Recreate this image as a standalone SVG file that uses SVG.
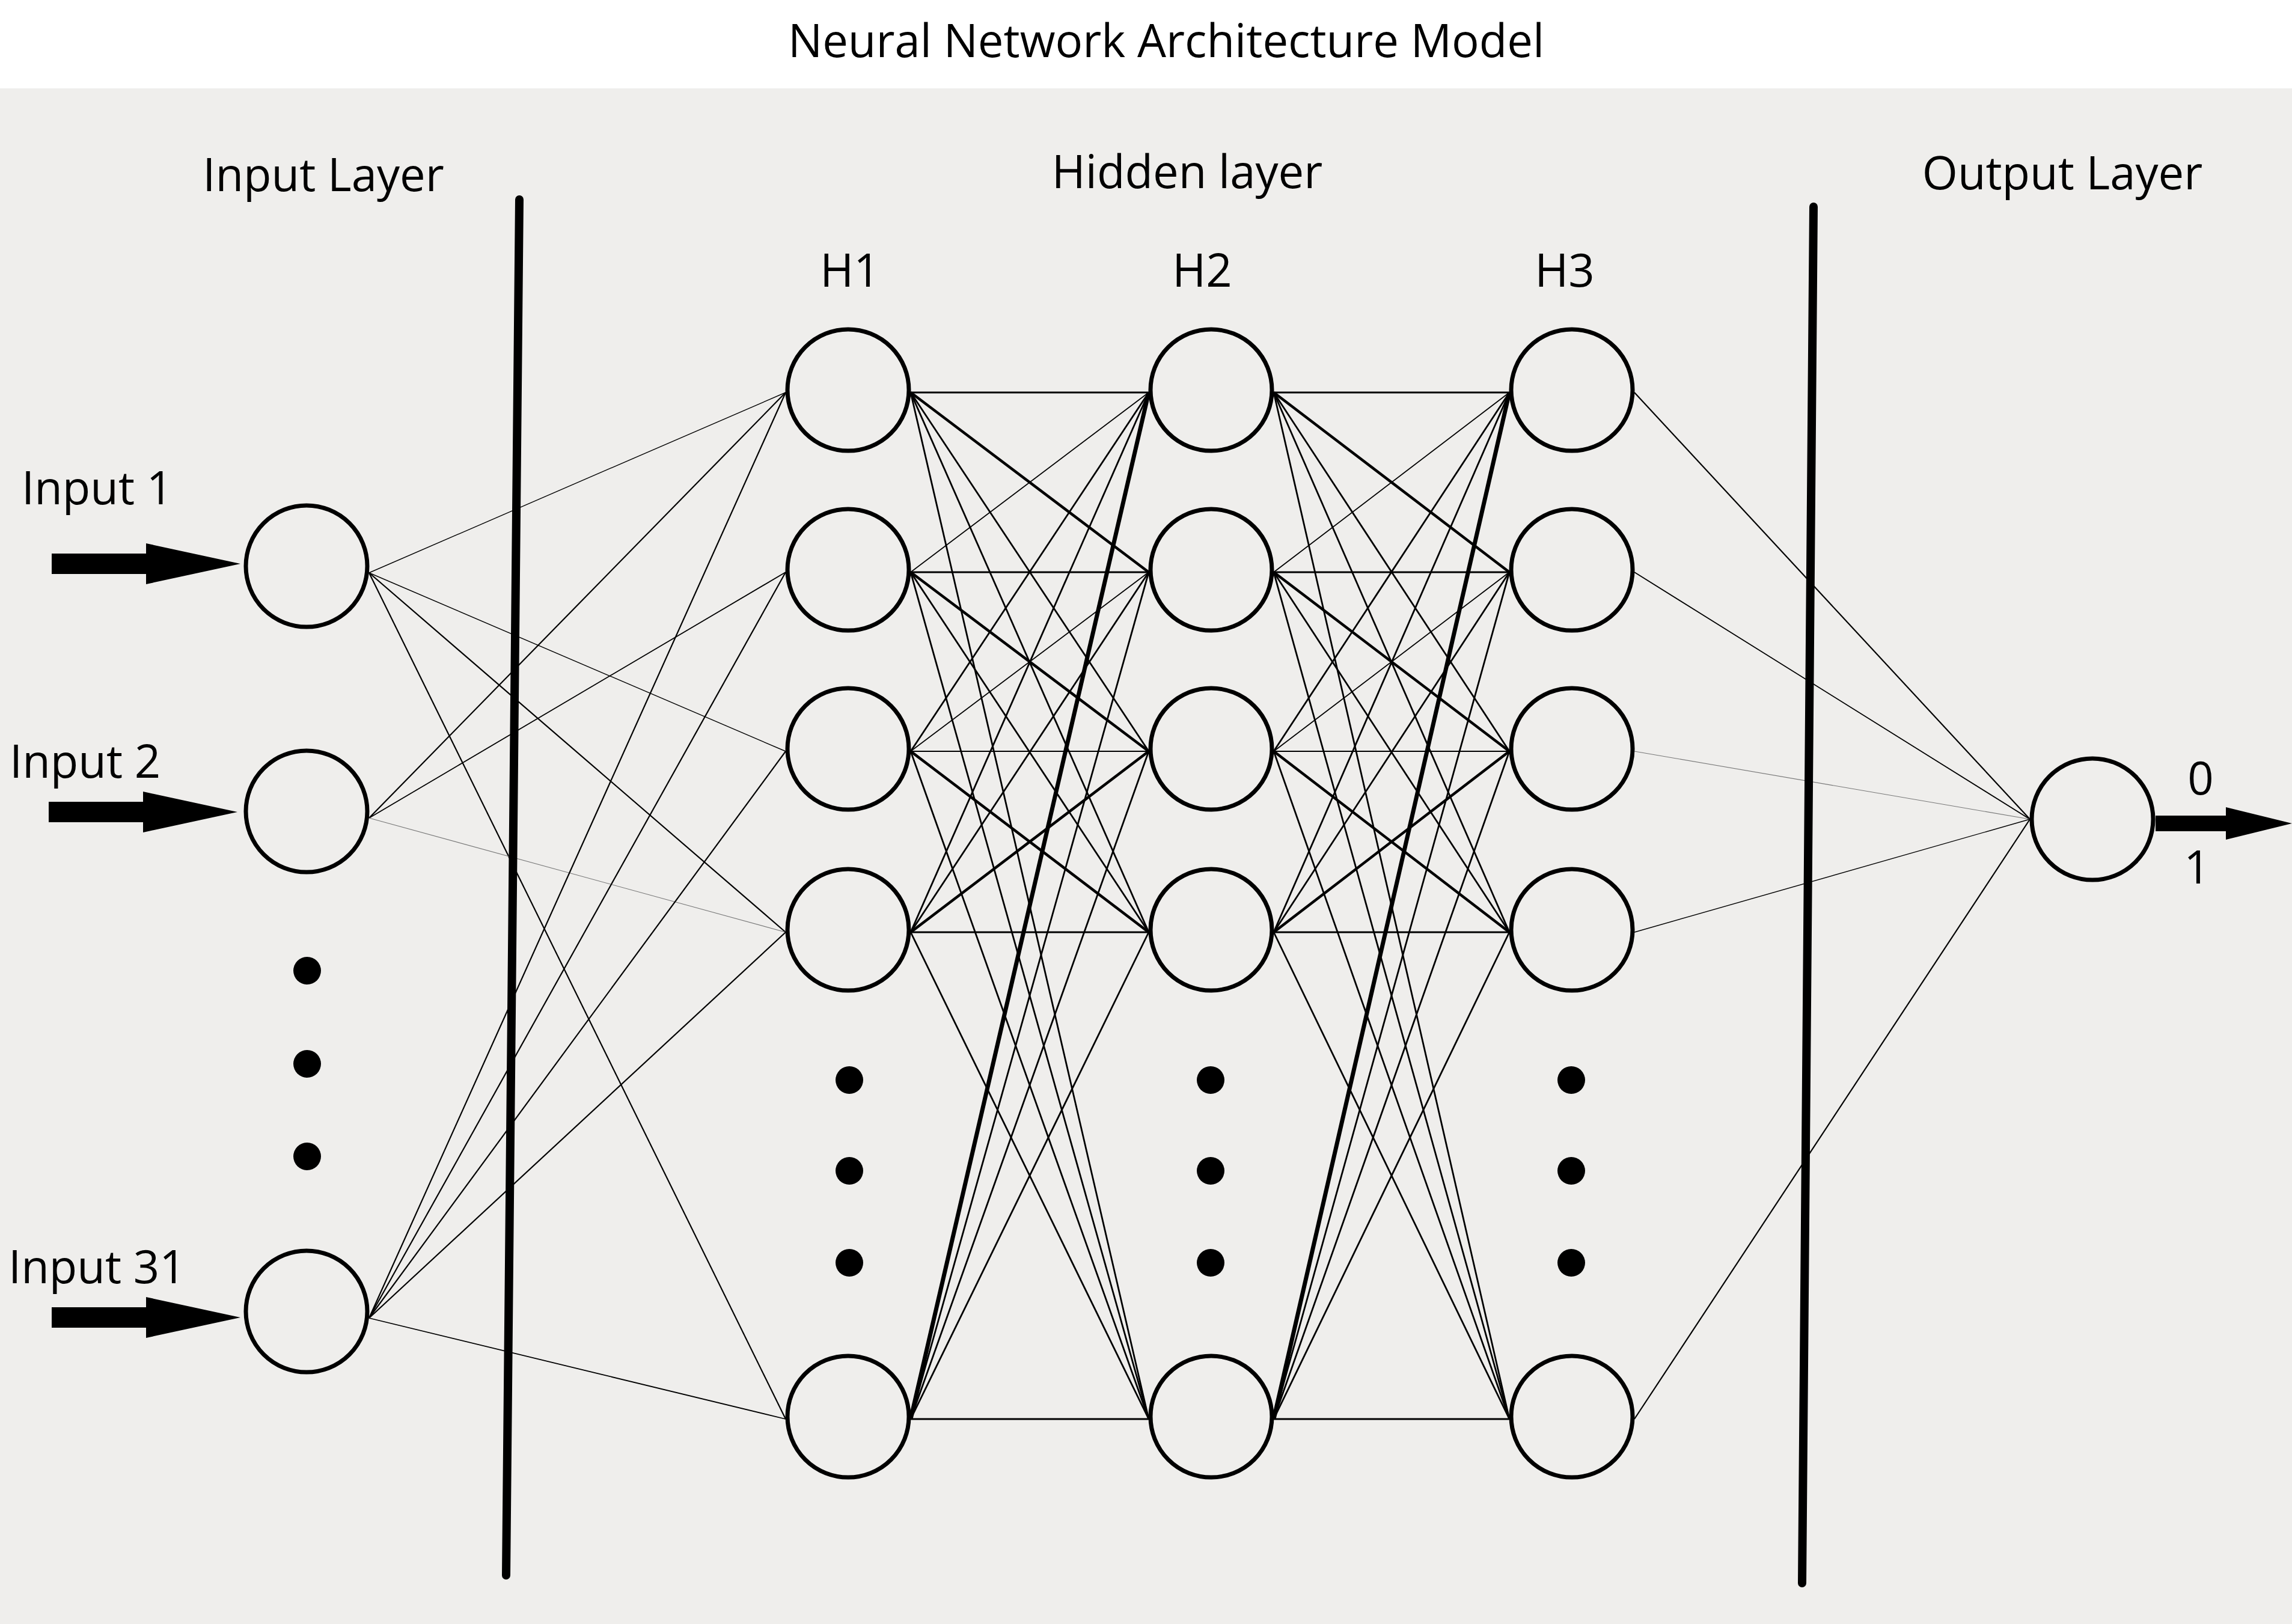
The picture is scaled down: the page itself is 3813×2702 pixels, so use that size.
<svg xmlns="http://www.w3.org/2000/svg" width="3813" height="2702" viewBox="0 0 3813 2702">
<style>
.bg{fill:#efeeec}
.node{fill:#efeeec;stroke:#000;stroke-width:7}
.dot{fill:#000}
.txt{font-family:"Open Sans","Noto Sans","DejaVu Sans",sans-serif;font-size:76px;fill:#000}
.mid{text-anchor:middle}
.e{stroke:#000;fill:none}
.w1{stroke-width:1.4}
.wt{stroke-width:1.8}
.w2{stroke-width:2.2}
.w3{stroke-width:2.8}
.w4{stroke-width:4.5}
.w7{stroke-width:7}
.grey{stroke:#777;stroke-width:1.1}
.div{stroke:#000;stroke-width:14;stroke-linecap:round;fill:none}
</style>
<defs>
<path id="inArrow" d="M86,-17 H243 V-34 L400,0 L243,34 V17 H86 Z" fill="#000"/>
</defs>
<rect x="0" y="0" width="3813" height="2702" fill="#fff"/>
<rect class="bg" x="0" y="147" width="3813" height="2555"/>
<text class="txt mid" x="1940" y="95" font-size="80">Neural Network Architecture Model</text>

<g id="labels">
<text class="txt mid" x="538" y="318">Input Layer</text>
<text class="txt mid" x="1975" y="313">Hidden layer</text>
<text class="txt mid" x="3431" y="315">Output Layer</text>
<text class="txt mid" x="1414" y="477">H1</text>
<text class="txt mid" x="2000" y="477">H2</text>
<text class="txt mid" x="2603" y="477">H3</text>
<text class="txt" x="36" y="839">Input 1</text>
<text class="txt" x="16" y="1294">Input 2</text>
<text class="txt" x="14" y="2135">Input 31</text>
<text class="txt mid" x="3661" y="1322">0</text>
<text class="txt mid" x="3655" y="1470">1</text>
</g>

<g id="connectors">
<!-- input -> H1 -->
<line class="e w1" x1="614" y1="953" x2="1307" y2="653"/>
<line class="e w1" x1="614" y1="953" x2="1307" y2="1250"/>
<line class="e w2" x1="614" y1="953" x2="1307" y2="1551"/>
<line class="e w2" x1="614" y1="953" x2="1307" y2="2361"/>
<line class="e w2" x1="614" y1="1361" x2="1307" y2="653"/>
<line class="e wt" x1="614" y1="1361" x2="1307" y2="952"/>
<line class="e grey" x1="614" y1="1361" x2="1307" y2="1551"/>
<line class="e w2" x1="614" y1="2193" x2="1307" y2="653"/>
<line class="e w2" x1="614" y1="2193" x2="1307" y2="952"/>
<line class="e w2" x1="614" y1="2193" x2="1307" y2="1250"/>
<line class="e w2" x1="614" y1="2193" x2="1307" y2="1551"/>
<line class="e wt" x1="614" y1="2193" x2="1307" y2="2361"/>
<!-- H1 -> H2 -->
<line class="e w3" x1="1515" y1="653" x2="1911" y2="653"/>
<line class="e w4" x1="1515" y1="653" x2="1911" y2="952"/>
<line class="e w3" x1="1515" y1="653" x2="1911" y2="1250"/>
<line class="e w3" x1="1515" y1="653" x2="1911" y2="1551"/>
<line class="e w3" x1="1515" y1="653" x2="1911" y2="2361"/>
<line class="e wt" x1="1515" y1="952" x2="1911" y2="653"/>
<line class="e w3" x1="1515" y1="952" x2="1911" y2="952"/>
<line class="e w4" x1="1515" y1="952" x2="1911" y2="1250"/>
<line class="e w3" x1="1515" y1="952" x2="1911" y2="1551"/>
<line class="e w3" x1="1515" y1="952" x2="1911" y2="2361"/>
<line class="e w3" x1="1515" y1="1250" x2="1911" y2="653"/>
<line class="e wt" x1="1515" y1="1250" x2="1911" y2="952"/>
<line class="e w2" x1="1515" y1="1250" x2="1911" y2="1250"/>
<line class="e w4" x1="1515" y1="1250" x2="1911" y2="1551"/>
<line class="e w3" x1="1515" y1="1250" x2="1911" y2="2361"/>
<line class="e w3" x1="1515" y1="1551" x2="1911" y2="653"/>
<line class="e w3" x1="1515" y1="1551" x2="1911" y2="952"/>
<line class="e w4" x1="1515" y1="1551" x2="1911" y2="1250"/>
<line class="e w3" x1="1515" y1="1551" x2="1911" y2="1551"/>
<line class="e w3" x1="1515" y1="1551" x2="1911" y2="2361"/>
<line class="e w7" x1="1515" y1="2361" x2="1911" y2="653"/>
<line class="e w3" x1="1515" y1="2361" x2="1911" y2="952"/>
<line class="e w3" x1="1515" y1="2361" x2="1911" y2="1250"/>
<line class="e w3" x1="1515" y1="2361" x2="1911" y2="1551"/>
<line class="e w3" x1="1515" y1="2361" x2="1911" y2="2361"/>
<!-- H2 -> H3 -->
<line class="e w3" x1="2119" y1="653" x2="2511" y2="653"/>
<line class="e w4" x1="2119" y1="653" x2="2511" y2="952"/>
<line class="e w3" x1="2119" y1="653" x2="2511" y2="1250"/>
<line class="e w3" x1="2119" y1="653" x2="2511" y2="1551"/>
<line class="e w3" x1="2119" y1="653" x2="2511" y2="2361"/>
<line class="e wt" x1="2119" y1="952" x2="2511" y2="653"/>
<line class="e w3" x1="2119" y1="952" x2="2511" y2="952"/>
<line class="e w4" x1="2119" y1="952" x2="2511" y2="1250"/>
<line class="e w3" x1="2119" y1="952" x2="2511" y2="1551"/>
<line class="e w3" x1="2119" y1="952" x2="2511" y2="2361"/>
<line class="e w3" x1="2119" y1="1250" x2="2511" y2="653"/>
<line class="e wt" x1="2119" y1="1250" x2="2511" y2="952"/>
<line class="e w2" x1="2119" y1="1250" x2="2511" y2="1250"/>
<line class="e w4" x1="2119" y1="1250" x2="2511" y2="1551"/>
<line class="e w3" x1="2119" y1="1250" x2="2511" y2="2361"/>
<line class="e w3" x1="2119" y1="1551" x2="2511" y2="653"/>
<line class="e w3" x1="2119" y1="1551" x2="2511" y2="952"/>
<line class="e w4" x1="2119" y1="1551" x2="2511" y2="1250"/>
<line class="e w3" x1="2119" y1="1551" x2="2511" y2="1551"/>
<line class="e w3" x1="2119" y1="1551" x2="2511" y2="2361"/>
<line class="e w7" x1="2119" y1="2361" x2="2511" y2="653"/>
<line class="e w3" x1="2119" y1="2361" x2="2511" y2="952"/>
<line class="e w3" x1="2119" y1="2361" x2="2511" y2="1250"/>
<line class="e w3" x1="2119" y1="2361" x2="2511" y2="1551"/>
<line class="e w3" x1="2119" y1="2361" x2="2511" y2="2361"/>
<!-- H3 -> output -->
<line class="e w2" x1="2719" y1="653" x2="3377" y2="1363"/>
<line class="e wt" x1="2719" y1="952" x2="3377" y2="1363"/>
<line class="e grey" x1="2719" y1="1250" x2="3377" y2="1363"/>
<line class="e w1" x1="2719" y1="1551" x2="3377" y2="1363"/>
<line class="e w2" x1="2719" y1="2361" x2="3377" y2="1363"/>
<!-- input arrows -->
<use href="#inArrow" x="0" y="938"/>
<use href="#inArrow" x="-5" y="1351"/>
<use href="#inArrow" x="0" y="2192"/>
<!-- output arrow -->
<path d="M3586,1357 H3703 V1343 L3813,1370 L3703,1397 V1383 H3586 Z" fill="#000"/>
</g>

<g id="dividers">
<line class="div" x1="864" y1="332" x2="842" y2="2621"/>
<line class="div" x1="3017" y1="344" x2="2998" y2="2634"/>
</g>

<g id="input-layer">
<circle id="in1" class="node" cx="510" cy="942" r="101"/>
<circle id="in2" class="node" cx="510" cy="1350" r="101"/>
<circle id="in31" class="node" cx="510" cy="2182" r="101"/>
<circle class="dot" cx="511" cy="1615" r="23"/>
<circle class="dot" cx="511" cy="1770" r="23"/>
<circle class="dot" cx="511" cy="1924" r="23"/>
</g>
<g id="h1">
<circle class="node" cx="1411" cy="649" r="101"/>
<circle class="node" cx="1411" cy="948" r="101"/>
<circle class="node" cx="1411" cy="1246" r="101"/>
<circle class="node" cx="1411" cy="1547" r="101"/>
<circle class="node" cx="1411" cy="2357" r="101"/>
<circle class="dot" cx="1413" cy="1797" r="23"/>
<circle class="dot" cx="1413" cy="1948" r="23"/>
<circle class="dot" cx="1413" cy="2101" r="23"/>
</g>
<g id="h2">
<circle class="node" cx="2015" cy="649" r="101"/>
<circle class="node" cx="2015" cy="948" r="101"/>
<circle class="node" cx="2015" cy="1246" r="101"/>
<circle class="node" cx="2015" cy="1547" r="101"/>
<circle class="node" cx="2015" cy="2357" r="101"/>
<circle class="dot" cx="2014" cy="1797" r="23"/>
<circle class="dot" cx="2014" cy="1948" r="23"/>
<circle class="dot" cx="2014" cy="2101" r="23"/>
</g>
<g id="h3">
<circle class="node" cx="2615" cy="649" r="101"/>
<circle class="node" cx="2615" cy="948" r="101"/>
<circle class="node" cx="2615" cy="1246" r="101"/>
<circle class="node" cx="2615" cy="1547" r="101"/>
<circle class="node" cx="2615" cy="2357" r="101"/>
<circle class="dot" cx="2614" cy="1797" r="23"/>
<circle class="dot" cx="2614" cy="1948" r="23"/>
<circle class="dot" cx="2614" cy="2101" r="23"/>
</g>
<g id="output">
<circle class="node" cx="3481" cy="1363" r="101"/>
</g>
</svg>
